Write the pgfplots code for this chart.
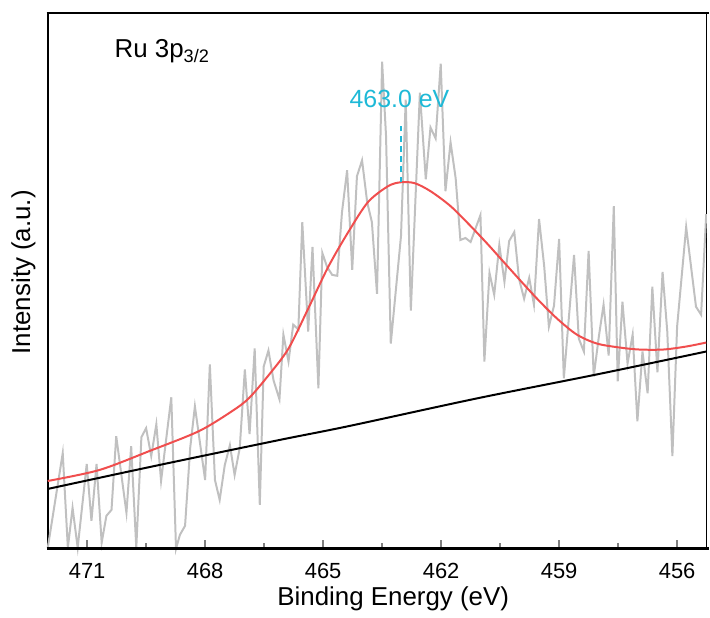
\documentclass[border=0pt]{standalone}
\usepackage{fontspec}
\setmainfont{Liberation Sans}
\usepackage{pgfplots}
\pgfplotsset{compat=1.18}
\usepackage{pgfplotstable}
\usetikzlibrary{calc}

\definecolor{rawgrey}{RGB}{192,192,192}
\definecolor{fitred}{RGB}{240,78,78}
\definecolor{peakcyan}{RGB}{30,185,215}

% raw spectrum
\pgfplotstableread{
x y
472.00 1
471.62 96
471.49 1
471.37 41
471.24 1
471.01 85
470.89 28
470.76 85
470.63 6
470.51 33
470.38 39
470.26 113
470.00 36
469.88 103
469.75 1
469.62 112
469.50 121
469.37 93
469.24 125
469.12 68
468.86 152
468.74 0
468.64 14
468.51 23
468.38 101
468.26 143
468.00 69
467.88 185
467.75 69
467.63 49
467.50 84
467.37 104
467.25 74
467.12 101
466.99 180
466.87 115
466.74 201
466.61 44
466.51 183
466.39 199
466.26 169
466.11 150
466.01 215
465.88 188
465.76 225
465.63 220
465.53 328
465.38 218
465.27 303
465.12 161
465.02 297
464.90 283
464.77 275
464.64 274
464.52 338
464.39 380
464.26 280
464.14 374
464.01 390
463.88 348
463.76 328
463.63 256
463.50 489
463.40 414
463.28 206
463.02 314
462.90 451
462.77 239
462.54 458
462.39 371
462.27 423
462.14 412
462.01 487
461.89 359
461.76 408
461.63 372
461.51 310
461.38 312
461.25 308
461.00 335
460.90 188
460.77 277
460.65 255
460.52 305
460.39 268
460.27 309
460.14 318
460.02 271
459.89 251
459.76 272
459.64 245
459.51 331
459.38 284
459.26 223
459.13 244
459.00 311
458.88 171
458.62 295
458.50 211
458.37 198
458.25 299
458.12 173
457.99 213
457.87 245
457.74 194
457.61 344
457.51 168
457.39 248
457.26 186
457.13 215
457.01 128
456.88 198
456.75 156
456.63 263
456.50 177
456.37 278
456.25 218
456.12 93
456.00 223
455.77 323
455.52 243
455.39 235
455.26 336
}\raw

% fitted peak envelope
\pgfplotstableread{
x y
472.00 68
470.69 79
469.42 98
468.16 118
467.32 138
466.89 151
466.39 174
465.88 201
465.38 241
464.87 283
464.36 318
463.86 348
463.35 364
463.02 368
462.67 367
462.27 359
461.76 344
461.25 324
460.82 306
460.57 295
460.07 273
459.56 251
459.05 231
458.55 215
458.04 206
457.46 202
456.96 200
456.35 200
455.77 203
455.26 207
}\fit

% background
\pgfplotstableread{
x y
472.00 60
469.17 84
466.13 109
464.36 123
461.08 151
458.04 175
455.26 198
}\bkg

\begin{document}
\begin{tikzpicture}
\begin{axis}[
    width=331pt, height=269pt, scale only axis,
    x dir=reverse,
    xmin=455.24, xmax=472, ymin=0, ymax=538,
    clip=false,
    axis line style={line width=1.2pt},
    ytick=\empty,
    xtick={456,459,...,471},
    minor x tick num=1,
    xtick pos=left,
    tick align=inside,
    major tick length=4.5pt, minor tick length=2.8pt,
    major tick style={line width=0.9pt},
    minor tick style={line width=0.9pt},
    /pgf/number format/assume math mode=true,
    xticklabel style={font=\fontsize{11}{13}\selectfont, yshift=-4pt},
    xlabel={Binding Energy (eV)},
    ylabel={Intensity (a.u.)},
    label style={font=\fontsize{13}{15}\selectfont},
    x label style={at={(axis description cs:0.524,-0.106)}, anchor=base},
    y label style={at={(axis description cs:-0.037,0.516)}, anchor=center},
]
\addplot[rawgrey, line width=1pt] table {\raw};
\addplot[black, line width=1pt, smooth] table {\bkg};
\addplot[fitred, line width=1pt, smooth] table {\fit};
\addplot[peakcyan, line width=1.3pt, dash pattern=on 2.8pt off 2.3pt] coordinates {(463.02,368) (463.02,426)};
\node[anchor=base, inner sep=0pt, text=peakcyan, font=\fontsize{12.5}{15}\selectfont] at (axis cs:463.06,443) {463.0 eV};
\node[anchor=base west, inner sep=0pt, font=\fontsize{13}{15}\selectfont] at (axis cs:470.31,493) {Ru 3p\textsubscript{3/2}};
\coordinate (sw) at (axis description cs:0,0);
\coordinate (ne) at (axis description cs:1,1);
\end{axis}
% the source figure is cut at its right edge: cover the right spine
\fill[white] ($(sw -| ne)+(0pt,0.7pt)$) rectangle ($(ne)+(0.8pt,-0.7pt)$);
% top and bottom spines, up to the cut
\draw[line width=1.4pt] ($(sw)+(-0.6pt,0pt)$) -- ($(sw -| ne)+(0.8pt,0pt)$);
\draw[line width=1.4pt] ($(sw |- ne)+(-0.6pt,0pt)$) -- ($(ne)+(0.8pt,0pt)$);
% margins of the source figure
\path ($(sw)+(-24pt,-32pt)$) ($(ne)+(0pt,6.5pt)$);
\end{tikzpicture}
\end{document}
